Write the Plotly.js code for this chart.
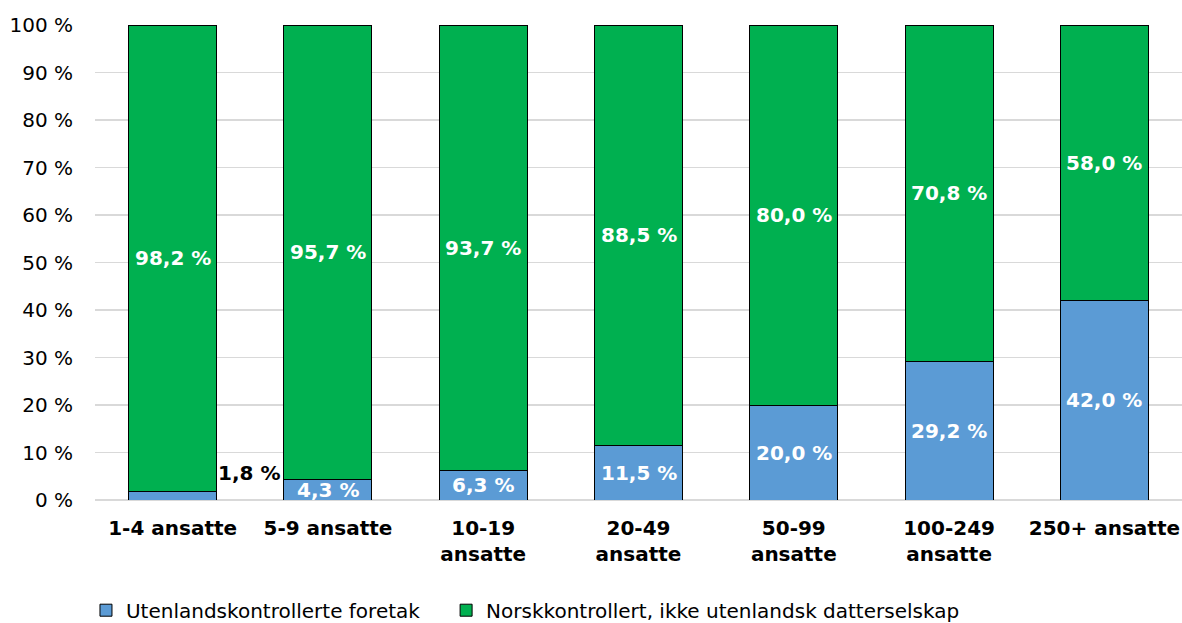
<!DOCTYPE html>
<html>
<head>
<meta charset="utf-8">
<script src="https://cdn.plot.ly/plotly-3.0.1.min.js"></script>
<style>html,body{margin:0;padding:0;background:#fff;}#chart{width:1182px;height:623px;}</style>
</head>
<body>
<div id="chart"></div>
<script>
const categories = ["1-4 ansatte", "5-9 ansatte", "10-19<br>ansatte", "20-49<br>ansatte", "50-99<br>ansatte", "100-249<br>ansatte", "250+ ansatte"];
const foreignValues = [1.8, 4.3, 6.3, 11.5, 20.0, 29.2, 42.0];
const norwegianValues = [98.2, 95.7, 93.7, 88.5, 80.0, 70.8, 58.0];
const seriesNames = ["Utenlandskontrollerte foretak", "Norskkontrollert, ikke utenlandsk datterselskap"];
const yTickVals = [0, 10, 20, 30, 40, 50, 60, 70, 80, 90, 100];

const fmt = v => v.toFixed(1).replace('.', ',') + ' %';
const FONT = 'DejaVu Sans, sans-serif';

const traces = [
  {type: 'bar', name: seriesNames[0], x: categories, y: foreignValues, legend: 'legend',
   marker: {color: '#5B9BD5', line: {color: '#000', width: 1}}, hoverinfo: 'none'},
  {type: 'bar', name: seriesNames[1], x: categories, y: norwegianValues, legend: 'legend2',
   marker: {color: '#00B050', line: {color: '#000', width: 1}}, hoverinfo: 'none'}
];

const annotations = [];
categories.forEach((c, i) => {
  const f = foreignValues[i], n = norwegianValues[i];
  if (i === 0) {
    annotations.push({x: c, y: f, text: '<b>' + fmt(f) + '</b>', showarrow: false,
      xshift: 76, yshift: 18, font: {family: FONT, size: 20, color: '#000'}});
  } else {
    annotations.push({x: c, y: f / 2, text: '<b>' + fmt(f) + '</b>', showarrow: false,
      font: {family: FONT, size: 20, color: '#fff'}});
  }
  annotations.push({x: c, y: f + n / 2, text: '<b>' + fmt(n) + '</b>', showarrow: false,
    font: {family: FONT, size: 20, color: '#fff'}});
});

const legendFont = {family: FONT, size: 20, color: '#000'};
const layout = {
  width: 1182, height: 623,
  margin: {l: 95, r: 0, t: 25, b: 123, autoexpand: false},
  barmode: 'stack',
  bargap: 0.433,
  paper_bgcolor: '#fff', plot_bgcolor: '#fff',
  font: {family: FONT, size: 20, color: '#000'},
  xaxis: {type: 'category', tickfont: {family: FONT, size: 20, color: '#000', weight: 'bold'},
    showgrid: false, showline: false, ticks: '', ticklabelstandoff: 14},
  yaxis: {range: [0, 100], tickvals: yTickVals, ticktext: yTickVals.map(v => v + ' %'),
    showgrid: true, gridcolor: '#D9D9D9', gridwidth: 1.5, zeroline: true, zerolinecolor: '#D9D9D9', zerolinewidth: 1.5,
    showline: false, ticks: '', tickfont: {family: FONT, size: 20, color: '#000'}, ticklabelstandoff: 21},
  showlegend: true,
  legend: {orientation: 'h', x: -0.0083, xanchor: 'left', y: -0.232, yanchor: 'middle',
    font: legendFont, itemwidth: 30},
  legend2: {orientation: 'h', x: 0.323, xanchor: 'left', y: -0.232, yanchor: 'middle',
    font: legendFont, itemwidth: 30},
  annotations: annotations
};

Plotly.newPlot('chart', traces, layout, {displayModeBar: false, staticPlot: true});
</script>
</body>
</html>
